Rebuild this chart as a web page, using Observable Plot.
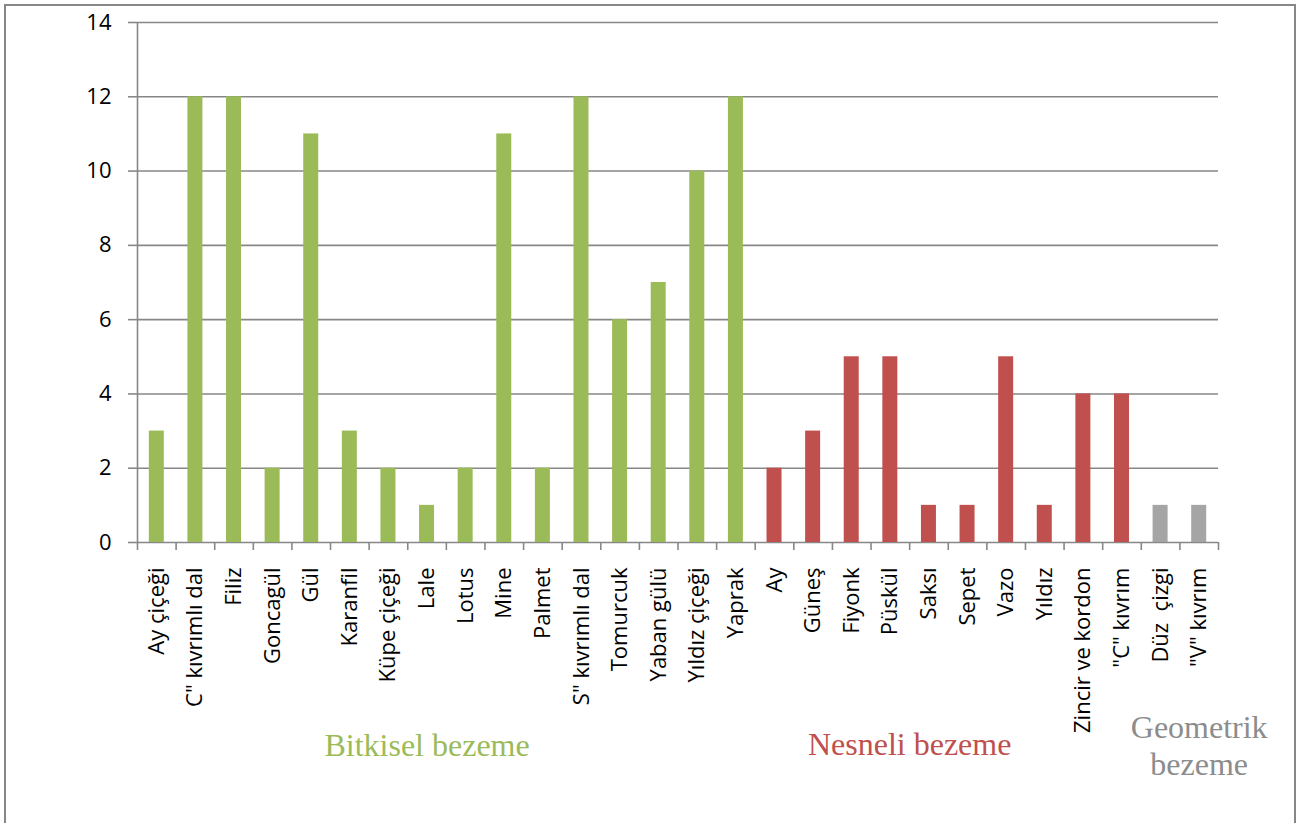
<!DOCTYPE html>
<html>
<head>
<meta charset="utf-8">
<script src="https://cdn.jsdelivr.net/npm/d3@7"></script>
<script src="https://cdn.jsdelivr.net/npm/@observablehq/plot@0.6"></script>
<style>
  html, body { margin: 0; padding: 0; background: #fff; overflow: hidden; width: 1301px; height: 823px; }
  #frame { position: absolute; left: 4px; top: 4px; width: 1292px; height: 900px; box-sizing: border-box; border: 2px solid #878787; border-bottom: none; }
  #chart { position: absolute; left: 0; top: 0; }
  svg text { white-space: pre; }
</style>
</head>
<body>
<div id="frame"></div>
<div id="chart"></div>
<script>
// ---- data ----
const bitkiselNames = ["Ay çiçeği", "C\" kıvrımlı dal", "Filiz", "Goncagül", "Gül", "Karanfil", "Küpe çiçeği", "Lale", "Lotus", "Mine", "Palmet", "S\" kıvrımlı dal", "Tomurcuk", "Yaban gülü", "Yıldız çiçeği", "Yaprak"];
const bitkiselValues = [3, 12, 12, 2, 11, 3, 2, 1, 2, 11, 2, 12, 6, 7, 10, 12];
const nesneliNames = ["Ay", "Güneş", "Fiyonk", "Püskül", "Saksı", "Sepet", "Vazo", "Yıldız", "Zincir ve kordon", "\"C\" kıvrım"];
const nesneliValues = [2, 3, 5, 5, 1, 1, 5, 1, 4, 4];
const geometrikNames = ["Düz  çizgi", "\"V\" kıvrım"];
const geometrikValues = [1, 1];
const groupKeys = ["Bitkisel", "Nesneli", "Geometrik"];
const groupLabels = ["Bitkisel bezeme", "Nesneli bezeme", "Geometrik\nbezeme"];
const groupLabelAt = ["Lale", "Saksı", "\"V\" kıvrım"];
const groupBarColors = ["#9BBB59", "#C0504D", "#A5A5A5"];
const groupTextColors = ["#9BBB59", "#C0504D", "#8C8C8C"];
const yTicks = [0, 2, 4, 6, 8, 10, 12, 14];

// ---- table ----
const data = [
  ...bitkiselNames.map((n, i) => ({name: n, value: bitkiselValues[i], group: "Bitkisel"})),
  ...nesneliNames.map((n, i) => ({name: n, value: nesneliValues[i], group: "Nesneli"})),
  ...geometrikNames.map((n, i) => ({name: n, value: geometrikValues[i], group: "Geometrik"}))
];
const names = data.map(d => d.name);
const groups = groupKeys.map((g, i) => ({key: g, label: groupLabels[i], at: groupLabelAt[i], color: groupTextColors[i]}));

const W = 1301, H = 823, ML = 137, MR = 83, MT = 22, MB = 281;
const step = (W - ML - MR) / names.length;
const half = step / 2;
const barInset = (step - 15) / 2;
const gray = "#878787";
const sans = "'Open Sans', sans-serif";
const serif = "'Liberation Serif', 'Times New Roman', serif";

const plot = Plot.plot({
  width: W, height: H,
  marginLeft: ML, marginRight: MR, marginTop: MT, marginBottom: MB,
  style: {fontFamily: sans, background: "transparent"},
  x: {domain: names, padding: 0, round: false, axis: null},
  y: {domain: [0, 14], axis: null},
  color: {domain: groupKeys, range: groupBarColors},
  marks: [
    Plot.ruleY(yTicks, {stroke: gray, strokeWidth: 1.6}),
    Plot.axisY({ticks: yTicks, label: null, tickSize: 9, tickPadding: 17, fontSize: 22, stroke: gray, strokeWidth: 1.6, fill: "#000", strokeOpacity: 1}),
    Plot.ruleX([names[0]], {y1: 14, y2: 0, dx: -half, stroke: gray, strokeWidth: 1.6}),
    Plot.ruleX(names, {y1: 0, y2: 0, insetBottom: -8, dx: -half, stroke: gray, strokeWidth: 1.6}),
    Plot.ruleX([names[names.length - 1]], {y1: 0, y2: 0, insetBottom: -8, dx: half, stroke: gray, strokeWidth: 1.6}),
    Plot.barY(data, {x: "name", y: "value", fill: "group", insetLeft: barInset, insetRight: barInset}),
    Plot.axisX({label: null, tickSize: 0, tickPadding: 25, tickRotate: -90, fontSize: 22, fill: "#000"}),
    Plot.text(groups.filter(g => g.key !== "Nesneli"), {
      x: "at", text: "label", fill: d => d.color,
      frameAnchor: "bottom", lineAnchor: "middle", dy: 202,
      fontSize: 32, lineHeight: 1.15, fontFamily: serif
    }),
    Plot.text(groups.filter(g => g.key === "Nesneli"), {
      x: "at", text: "label", fill: d => d.color,
      frameAnchor: "bottom", lineAnchor: "middle", dy: 202, dx: -half,
      fontSize: 32, fontFamily: serif
    })
  ]
});
document.getElementById("chart").appendChild(plot);
</script>
</body>
</html>
